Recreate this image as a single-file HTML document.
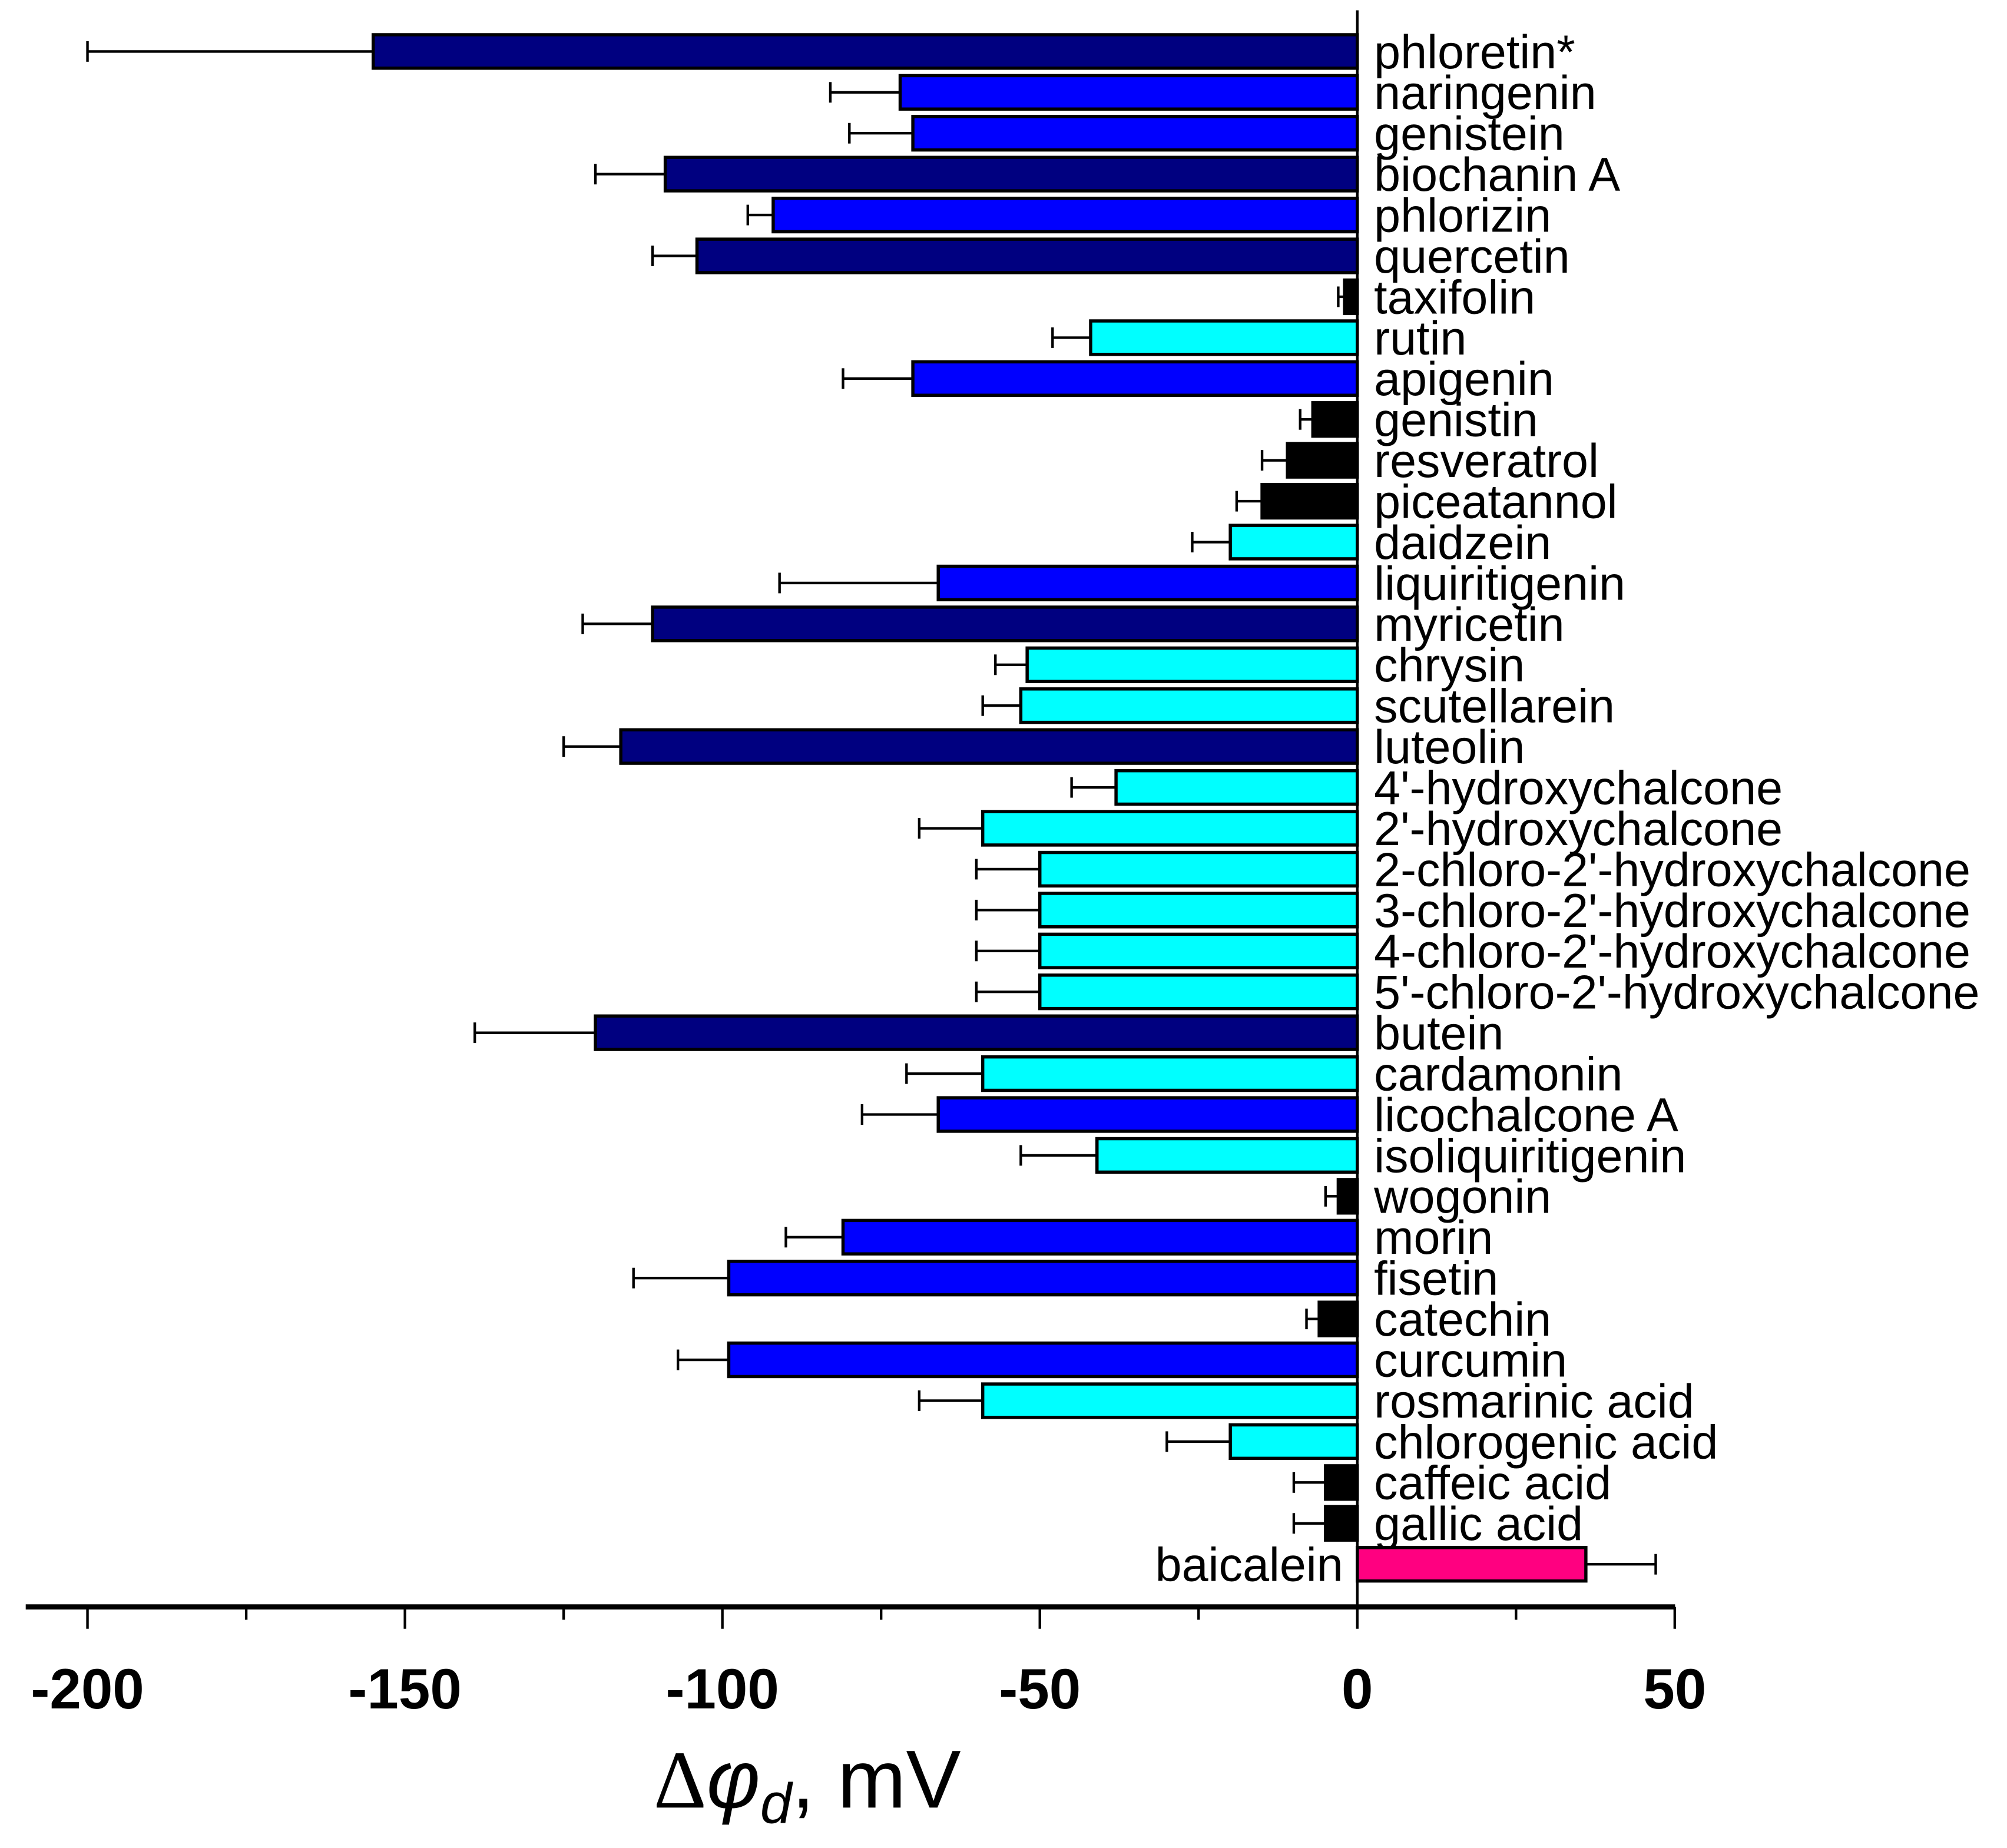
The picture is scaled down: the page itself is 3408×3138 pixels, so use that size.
<!DOCTYPE html>
<html><head><meta charset="utf-8"><style>html,body{margin:0;padding:0;background:#fff}svg{display:block}</style></head>
<body>
<svg id="chart" width="3408" height="3138" viewBox="0 0 1560 1436.4" preserveAspectRatio="none" xmlns="http://www.w3.org/2000/svg" font-family="'Liberation Sans', sans-serif">
<g id="bars"></g>
<g id="axis"></g>
<text x="508" y="1405" font-size="64"><tspan font-family="'Liberation Serif', serif">Δ</tspan><tspan font-style="italic">φ</tspan><tspan font-style="italic" font-size="44" dy="12">d</tspan><tspan dy="-12">,  mV</tspan></text>
</svg>
<script>
const categories = ["phloretin*","naringenin","genistein","biochanin A","phlorizin","quercetin","taxifolin","rutin","apigenin","genistin","resveratrol","piceatannol","daidzein","liquiritigenin","myricetin","chrysin","scutellarein","luteolin","4'-hydroxychalcone","2'-hydroxychalcone","2-chloro-2'-hydroxychalcone","3-chloro-2'-hydroxychalcone","4-chloro-2'-hydroxychalcone","5'-chloro-2'-hydroxychalcone","butein","cardamonin","licochalcone A","isoliquiritigenin","wogonin","morin","fisetin","catechin","curcumin","rosmarinic acid","chlorogenic acid","caffeic acid","gallic acid","baicalein"];
const values = [-155,-72,-70,-109,-92,-104,-2,-42,-70,-7,-11,-15,-20,-66,-111,-52,-53,-116,-38,-59,-50,-50,-50,-50,-120,-59,-66,-41,-3,-81,-99,-6,-99,-59,-20,-5,-5,36];
const errors = [45,11,10,11,4,7,1,6,11,2,4,4,6,25,11,5,6,9,7,10,10,10,10,10,19,12,12,12,2,9,15,2,8,10,10,5,5,11];
const groups = ["n","b","b","n","b","n","k","c","b","k","k","k","c","b","n","c","c","n","c","c","c","c","c","c","n","c","b","c","k","b","b","k","b","c","c","k","k","p"];
const ticks = [-200,-150,-100,-50,0,50];
const minorTicks = [-175,-125,-75,-25,25];

const colorMap = {n:"#000080",b:"#0000ff",c:"#00ffff",k:"#000000",p:"#ff0080"};
const NS = "http://www.w3.org/2000/svg";
const x = v => 1055 + v * 4.935;
const y = i => 40 + i * 31.78;
const BH = 26;
const bars = document.getElementById('bars');
const axis = document.getElementById('axis');
function mk(tag, attrs, parent) {
  const e = document.createElementNS(NS, tag);
  for (const k in attrs) e.setAttribute(k, attrs[k]);
  parent.appendChild(e);
  return e;
}
categories.forEach((c, i) => {
  const v = values[i], cy = y(i), x0 = x(0), xv = x(v);
  const xe = x(v + (v < 0 ? -errors[i] : errors[i]));
  const eline = mk('line', {x1: xv, x2: xe, y1: cy, y2: cy, stroke: '#000', 'stroke-width': 2}, bars);
  
  
  const ecap = mk('line', {x1: xe, x2: xe, y1: cy - 8, y2: cy + 8, stroke: '#000', 'stroke-width': 2}, bars);
  
  
  const r = mk('rect', {x: Math.min(x0, xv), y: cy - BH / 2, width: Math.abs(xv - x0), height: BH, fill: colorMap[groups[i]], stroke: '#000', 'stroke-width': 2.5}, bars);
  
  
  const t = mk('text', {x: v < 0 ? 1068 : 1044, y: cy + 13, 'font-size': 37, 'text-anchor': v < 0 ? 'start' : 'end'}, bars);
  t.textContent = c;
  
  
});
const zl = mk('line', {x1: x(0), x2: x(0), y1: 8, y2: 1248, stroke: '#000', 'stroke-width': 2}, axis);


const al = mk('line', {x1: 20, x2: 1302, y1: 1249, y2: 1249, stroke: '#000', 'stroke-width': 4}, axis);


ticks.forEach(t => {
  const l = mk('line', {x1: x(t), x2: x(t), y1: 1249, y2: 1266, stroke: '#000', 'stroke-width': 2}, axis);
  
  
  const tx = mk('text', {x: x(t), y: 1328, 'font-size': 44, 'font-weight': 'bold', 'text-anchor': 'middle'}, axis);
  tx.textContent = t;
  
  
});
minorTicks.forEach(t => {
  const l = mk('line', {x1: x(t), x2: x(t), y1: 1249, y2: 1259, stroke: '#000', 'stroke-width': 2}, axis);
  
  
});
</script>
</body></html>
